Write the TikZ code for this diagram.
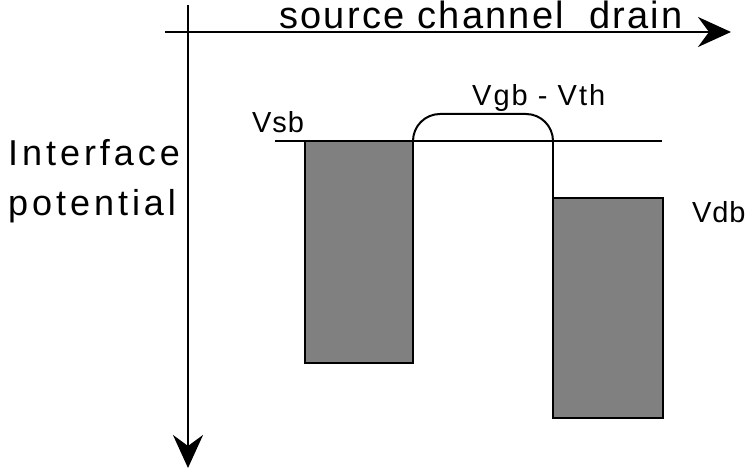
\documentclass[tikz,border=0pt]{standalone}
\usepackage{fontspec}
\setmainfont{Liberation Sans}
\newfontfamily\widefont[LetterSpace=11]{Liberation Sans}
\newfontfamily\topfont[LetterSpace=6]{Liberation Sans}
\newfontfamily\labfont[LetterSpace=3]{Liberation Sans}
\newfontfamily\vgbfont[LetterSpace=7]{Liberation Sans}
\usetikzlibrary{arrows.meta}
\begin{document}
\begin{tikzpicture}[x=1pt,y=1pt,
  axis/.style={line width=2.6pt,-{Stealth[length=33pt,width=30pt,inset=11pt]}},
  thin/.style={line width=2pt},
  bar/.style={fill=black!50,draw=black,line width=1.5pt},
  big/.style={inner sep=0pt,anchor=base west,font=\widefont\fontsize{36}{42}\selectfont},
  lab/.style={inner sep=0pt,anchor=base west,font=\labfont\fontsize{29}{34}\selectfont}]
\useasboundingbox (0,0) rectangle (748,-470);
% axes
\coordinate (hstart) at (165,-32);
\coordinate (hend) at (731,-32);
\coordinate (vstart) at (188,-5);
\coordinate (vend) at (188,-468);
\draw[axis] (hstart) -- (hend);
\draw[axis] (vstart) -- (vend);
% level line
\coordinate (l1) at (275,-141);
\coordinate (l2) at (662,-141);
\draw[thin] (l1) -- (l2);
% bars
\draw[bar] (305,-141) rectangle (413,-363);
\draw[bar] (553,-198) rectangle (663,-418);
\draw[line width=1.5pt] (553,-141) -- (553,-198);
% bump
\draw[thin,rounded corners=27pt] (413,-141) -- (413,-114) -- (553,-114) -- (553,-141);
% texts
\node[big,font=\topfont\fontsize{38}{44}\selectfont] (top) at (279,-29) {source channel\hspace{12pt} drain};
\node[big] (if) at (8,-166) {Interface};
\node[big] (pot) at (8,-216) {potential};
\node[lab] (vsb) at (252,-133) {Vsb};
\node[lab,font=\vgbfont\fontsize{29}{34}\selectfont] (vgb) at (472,-106) {Vgb - Vth};
\node[lab] (vdb) at (692,-223) {Vdb};
\end{tikzpicture}
\end{document}
